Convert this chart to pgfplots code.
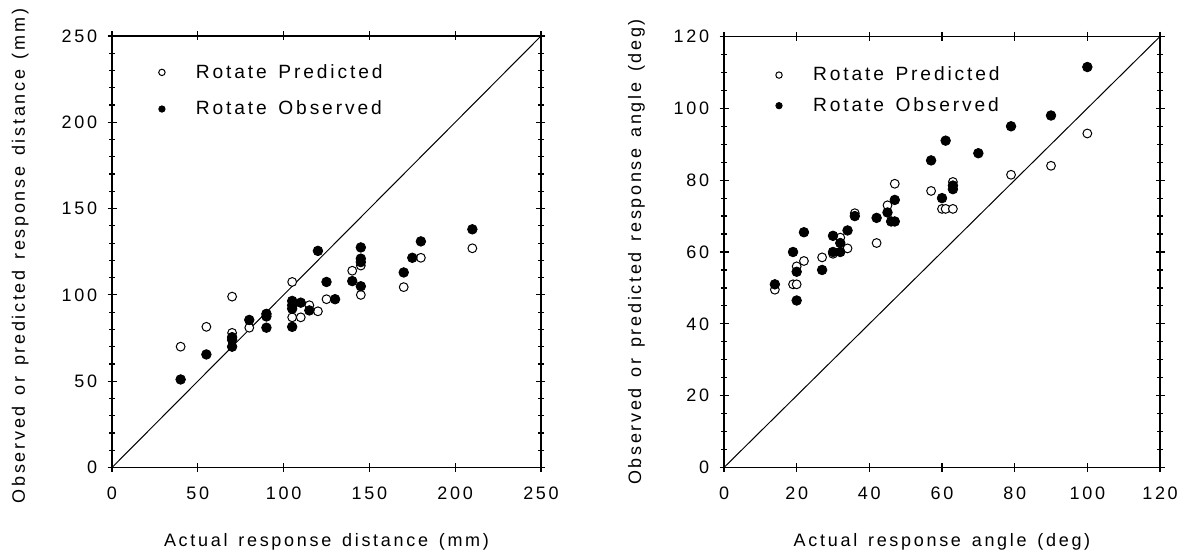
\documentclass[border=0pt]{standalone}
\usepackage{fontspec}
\setmainfont{Liberation Sans}[LetterSpace=15]
\usepackage{pgfplots}
\pgfplotsset{compat=1.18}
\DeclareRobustCommand\myfont{\fontsize{9}{11}\selectfont\spaceskip=0.6em\relax}
\DeclareRobustCommand\legfont{\fontsize{9.6}{11}\selectfont\spaceskip=0.6em\relax}
\begin{document}
\fontsize{9}{11}\selectfont
\begin{tikzpicture}
\pgfplotsset{
  myax/.style={
    scale only axis,
    anchor=south west,
    axis line style={line width=0.75pt},
    tick style={line width=0.6pt, black},
    tick align=center,
    major tick length=4.5pt,
    minor tick length=3pt,
    xtick pos=both, ytick pos=both,
    /pgf/number format/assume math mode=true,
    tick label style={font=\fontsize{9}{11}\selectfont},
    label style={font=\myfont},
    xticklabel style={yshift=-4.5pt},
    yticklabel style={xshift=-2pt},
    xlabel style={at={(axis description cs:0.5,-0.1842)}, anchor=base},
    legend style={draw=none, fill=none, font=\legfont, row sep=6pt,
                  cells={anchor=west}},
    legend image code/.code={\draw[##1,mark size=1.6pt] plot coordinates {(0pt,0pt)}; \path[draw=none] (-1.6pt,0pt) -- (15pt,0pt);},
    legend cell align=left,
  },
  predm/.style={only marks, mark=*, mark size=2.2pt, mark options={fill=white, draw=black, line width=0.5pt}},
  obsm/.style={only marks, mark=*, mark size=2.4pt, mark options={fill=black, draw=black}},
}
\begin{axis}[myax,
  at={(56pt,44.75pt)},
  width=214.5pt, height=215.75pt,
  xmin=0, xmax=250, ymin=0, ymax=250,
  xtick={0,50,...,250}, ytick={0,50,...,250},
  minor y tick num=4,
  xlabel={Actual response distance (mm)},
  ylabel={Observed or predicted response distance (mm)},
  ylabel style={at={(axis description cs:-0.2028,0.49)}, anchor=base},
  legend style={at={(axis cs:23.5,218.3)}, anchor=west},
]
\addplot[predm] coordinates {
(40,70) (55,81.5) (70,99) (70,78) (80,81) (90,89) (105,107.5) (105,87)
(110,87) (115,94) (120,90.5) (125,97.5) (140,114) (145,117) (145,100)
(170,104.5) (180,121.5) (210,127)
};
\addlegendentry{Rotate Predicted}
\addplot[obsm] coordinates {
(40,51) (55,65.5) (70,75.5) (70,74) (70,70) (80,85.5) (90,89) (90,87.5) (90,81)
(105,96.5) (105,94) (105,92) (105,81.5) (110,95.5) (115,91) (120,125.5)
(125,107.5) (130,97.5) (140,108) (145,127.5) (145,121) (145,119) (145,105)
(170,113) (175,121.5) (180,131) (210,138)
};
\addlegendentry{Rotate Observed}
\addplot[black, line width=0.5pt, forget plot] coordinates {(0,0) (250,250)};
\end{axis}
\begin{axis}[myax,
  at={(362pt,44.75pt)},
  width=218pt, height=215.5pt,
  xmin=0, xmax=120, ymin=0, ymax=120,
  xtick={0,20,...,120}, ytick={0,20,...,120},
  minor y tick num=3,
  xlabel={Actual response angle (deg)},
  ylabel={Observed or predicted response angle (deg)},
  ylabel style={at={(axis description cs:-0.19,0.5)}, anchor=base},
  legend style={at={(axis cs:12.5,105.0)}, anchor=west, row sep=3pt},
]
\addplot[predm] coordinates {
(14,49.5) (19,51) (20,51) (20,56) (22,57.5) (27,58.5) (30,59.5) (32,64) (34,61)
(36,70.8) (42,62.5) (45,73) (47,79) (57,77) (60,72) (61,72) (63,72) (63,79.5)
(79,81.5) (90,84) (100,93)
};
\addlegendentry{Rotate Predicted}
\addplot[obsm] coordinates {
(14,51) (19,60) (20,54.5) (20,46.5) (22,65.5) (27,55) (30,64.5) (30,60) (32,62.5)
(32,60) (34,66) (36,70) (42,69.5) (45,71) (46,68.5) (47,68.5) (47,74.5) (57,85.5)
(60,75) (61,91) (63,78.5) (63,77.5) (70,87.5) (79,95) (90,98) (100,111.5)
};
\addlegendentry{Rotate Observed}
\addplot[black, line width=0.5pt, forget plot] coordinates {(0,0) (120,120)};
\end{axis}
\pgfresetboundingbox
\path[use as bounding box] (0,0) rectangle (594pt,278.5pt);
\end{tikzpicture}
\end{document}
